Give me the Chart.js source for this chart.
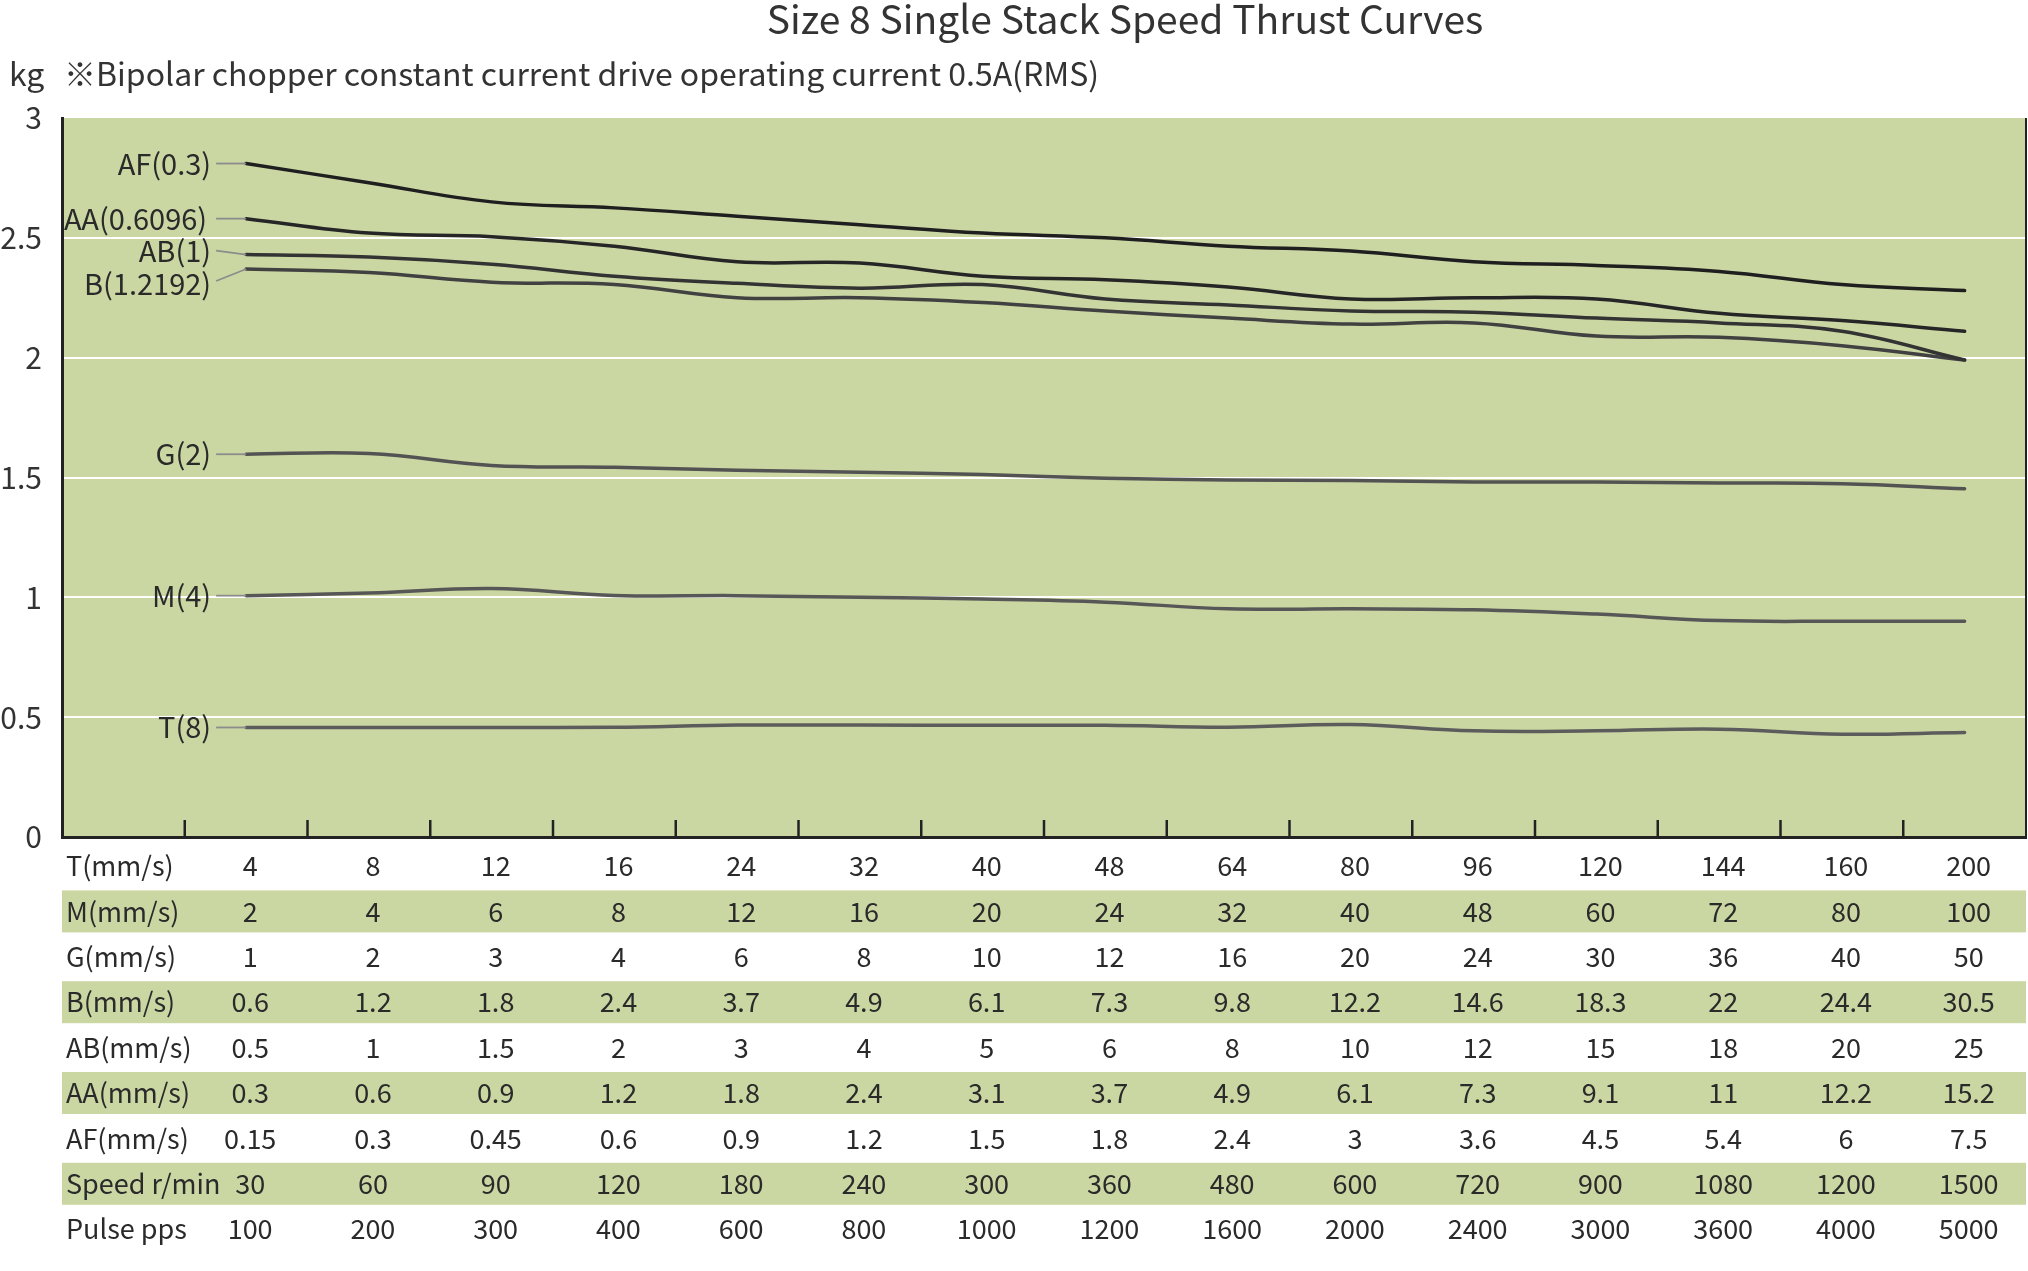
<!DOCTYPE html>
<html><head><meta charset="utf-8">
<script src="https://cdn.jsdelivr.net/npm/chart.js@4/dist/chart.umd.min.js"></script>
<style>html,body{margin:0;padding:0;background:#fff}#wrap{width:2028px;height:1271px;position:relative}</style>
</head><body><div id="wrap"><canvas id="c"></canvas></div>
<script>
// ---------- data ----------
const chartTitle = 'Size 8 Single Stack Speed Thrust Curves';
const unitLabel = 'kg';
const noteText = '※Bipolar chopper constant current drive operating current 0.5A(RMS)';
const yMin = 0, yMax = 3, yStep = 0.5;

const seriesNames = ['AF(0.3)', 'AA(0.6096)', 'AB(1)', 'B(1.2192)', 'G(2)', 'M(4)', 'T(8)'];
const AF = [2.81, 2.73, 2.65, 2.625, 2.59, 2.555, 2.52, 2.50, 2.465, 2.445, 2.40, 2.385, 2.36, 2.305, 2.28];
const AA = [2.58, 2.52, 2.505, 2.465, 2.40, 2.395, 2.34, 2.325, 2.295, 2.245, 2.25, 2.245, 2.185, 2.155, 2.11];
const AB = [2.43, 2.42, 2.39, 2.34, 2.31, 2.29, 2.305, 2.245, 2.22, 2.195, 2.19, 2.165, 2.145, 2.11, 1.99];
const B  = [2.37, 2.355, 2.315, 2.305, 2.25, 2.25, 2.23, 2.195, 2.165, 2.14, 2.145, 2.09, 2.085, 2.05, 1.99];
const G  = [1.597, 1.60, 1.55, 1.543, 1.53, 1.522, 1.512, 1.497, 1.49, 1.488, 1.481, 1.481, 1.477, 1.474, 1.453];
const M  = [1.007, 1.018, 1.037, 1.008, 1.007, 1.0, 0.993, 0.98, 0.952, 0.952, 0.948, 0.93, 0.903, 0.90, 0.90];
const T  = [0.457, 0.457, 0.457, 0.458, 0.467, 0.467, 0.466, 0.466, 0.458, 0.469, 0.443, 0.443, 0.45, 0.429, 0.436];

const rowLabels = ['T(mm/s)', 'M(mm/s)', 'G(mm/s)', 'B(mm/s)', 'AB(mm/s)', 'AA(mm/s)', 'AF(mm/s)', 'Speed r/min', 'Pulse pps'];
const rowT     = ['4','8','12','16','24','32','40','48','64','80','96','120','144','160','200'];
const rowM     = ['2','4','6','8','12','16','20','24','32','40','48','60','72','80','100'];
const rowG     = ['1','2','3','4','6','8','10','12','16','20','24','30','36','40','50'];
const rowB     = ['0.6','1.2','1.8','2.4','3.7','4.9','6.1','7.3','9.8','12.2','14.6','18.3','22','24.4','30.5'];
const rowAB    = ['0.5','1','1.5','2','3','4','5','6','8','10','12','15','18','20','25'];
const rowAA    = ['0.3','0.6','0.9','1.2','1.8','2.4','3.1','3.7','4.9','6.1','7.3','9.1','11','12.2','15.2'];
const rowAF    = ['0.15','0.3','0.45','0.6','0.9','1.2','1.5','1.8','2.4','3','3.6','4.5','5.4','6','7.5'];
const rowSpeed = ['30','60','90','120','180','240','300','360','480','600','720','900','1080','1200','1500'];
const rowPulse = ['100','200','300','400','600','800','1000','1200','1600','2000','2400','3000','3600','4000','5000'];

// ---------- styles / layout ----------
const FONT = "'Noto Sans CJK JP', 'Noto Sans', sans-serif";
const GREEN = '#cad7a3';
const TEXT = '#2a2a2a';
const lineColors = ['#1f1f1f', '#262626', '#333333', '#414141', '#535353', '#575757', '#5c5c5c'];
const labelDy = [0, 0, -4, 15, 0, 0, 0];
const labelDx = [0, 4, 0, 0, 0, 0, 0];
const ROW0 = 866, ROWH = 45.4;

const seriesValues = [AF, AA, AB, B, G, M, T];
const tableRows = [rowT, rowM, rowG, rowB, rowAB, rowAA, rowAF, rowSpeed, rowPulse];
const categories = ['', ...rowT];

const decor = {
  id: 'decor',
  beforeDraw(chart) {
    const {ctx, chartArea: a} = chart;
    ctx.save();
    ctx.fillStyle = GREEN;
    ctx.fillRect(a.left, a.top, a.right - a.left, a.bottom - a.top);
    for (let r = 0; r < tableRows.length; r++) {
      if (r % 2 === 1) {
        const cy = ROW0 + r * ROWH;
        ctx.fillRect(a.left, cy - 21, a.right - a.left, 42);
      }
    }
    ctx.restore();
  },
  afterDatasetsDraw(chart) {
    const {ctx, chartArea: a, scales: {x}} = chart;
    ctx.save();
    ctx.strokeStyle = '#222';
    ctx.lineWidth = 2.5;
    for (let i = 1; i < categories.length; i++) {
      const px = (x.getPixelForValue(i - 1) + x.getPixelForValue(i)) / 2;
      ctx.beginPath(); ctx.moveTo(px, a.bottom); ctx.lineTo(px, a.bottom - 17); ctx.stroke();
    }
    ctx.lineWidth = 2;
    ctx.beginPath(); ctx.moveTo(a.right, a.top); ctx.lineTo(a.right, a.bottom); ctx.stroke();

    ctx.font = `29px ${FONT}`;
    ctx.textAlign = 'right';
    ctx.textBaseline = 'middle';
    for (let d = 0; d < seriesNames.length; d++) {
      const pt = chart.getDatasetMeta(d).data[1];
      const ly = pt.y + labelDy[d];
      ctx.strokeStyle = '#8c8c8c';
      ctx.lineWidth = 1.8;
      ctx.beginPath();
      ctx.moveTo(pt.x - 30, ly - (labelDy[d] > 6 ? 3 : 0));
      ctx.lineTo(pt.x, pt.y);
      ctx.stroke();
      ctx.fillStyle = TEXT;
      ctx.fillText(seriesNames[d], pt.x - 35 - labelDx[d], ly);
    }

    ctx.font = `27px ${FONT}`;
    for (let r = 0; r < tableRows.length; r++) {
      const cy = ROW0 + r * ROWH;
      ctx.textAlign = 'left';
      ctx.fillStyle = TEXT;
      ctx.fillText(rowLabels[r], 66, cy);
      ctx.textAlign = 'center';
      tableRows[r].forEach((v, i) => ctx.fillText(v, x.getPixelForValue(i + 1) + 4, cy));
    }

    ctx.textBaseline = 'alphabetic';
    ctx.fillStyle = '#333';
    ctx.font = `39px ${FONT}`;
    ctx.textAlign = 'center';
    ctx.fillText(chartTitle, 1125, 34);
    ctx.font = `32px ${FONT}`;
    ctx.textAlign = 'left';
    ctx.fillText(unitLabel, 9, 86);
    ctx.fillText(noteText, 64, 86);
    ctx.restore();
  }
};

new Chart(document.getElementById('c'), {
  type: 'line',
  data: {
    labels: categories,
    datasets: seriesNames.map((n, i) => ({
      label: n,
      data: [null, ...seriesValues[i]],
      borderColor: lineColors[i],
      borderWidth: 3.5,
      pointRadius: 0,
      tension: 0.4,
      fill: false,
      borderCapStyle: 'round'
    }))
  },
  options: {
    responsive: true,
    maintainAspectRatio: false,
    animation: false,
    layout: {padding: {top: 118, right: 2, left: 0, bottom: 0}},
    plugins: {legend: {display: false}, tooltip: {enabled: false}, title: {display: false}},
    scales: {
      x: {
        type: 'category',
        offset: true,
        grid: {display: false, drawTicks: false},
        border: {display: true, color: '#222', width: 3},
        ticks: {display: false},
        afterFit(s) { s.height = 434; }
      },
      y: {
        min: yMin, max: yMax,
        ticks: {stepSize: yStep, padding: 20, color: '#333', font: {family: FONT, size: 30},
                callback: v => String(v)},
        grid: {
          drawTicks: false,
          lineWidth: 2,
          color: c => (c.tick && c.tick.value > yMin && c.tick.value < yMax) ? '#ffffff' : 'rgba(0,0,0,0)'
        },
        border: {display: true, color: '#222', width: 3},
        afterFit(s) { s.width = 62; }
      }
    }
  },
  plugins: [decor]
});
</script>
</body></html>
